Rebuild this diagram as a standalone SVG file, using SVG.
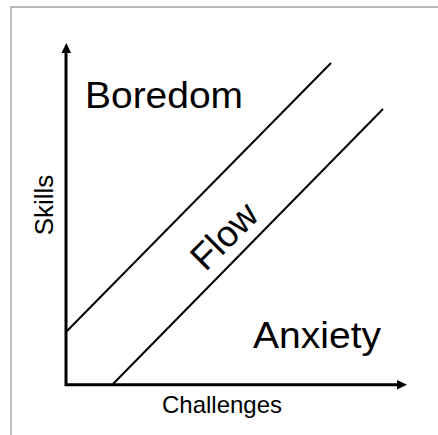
<svg xmlns="http://www.w3.org/2000/svg" width="438" height="435" viewBox="0 0 438 435">
<style>
.lbl{font-family:"Liberation Sans",Arial,sans-serif;fill:#000}
.big{font-size:37px}
.small{font-size:24px}
.ln{stroke:#000;stroke-width:2;fill:none}
</style>
<rect width="438" height="435" fill="#fff"/>
<path d="M11,440 V7 H440" fill="none" stroke="#a0a0a0" stroke-width="1.3"/>
<g id="connectors">
<polyline points="66,52 66,384.8 398,384.8" fill="none" stroke="#000" stroke-width="3" stroke-linejoin="miter"/>
<polygon points="66.3,43 61.5,53 71.1,53" fill="#000"/>
<polygon points="407,384.8 397,380 397,389.6" fill="#000"/>
<line class="ln" x1="66" y1="332" x2="331" y2="63"/>
<line class="ln" x1="113" y1="384" x2="383" y2="109"/>
</g>
<g id="boredom"><text class="lbl big" x="85" y="108" textLength="158" lengthAdjust="spacingAndGlyphs">Boredom</text></g>
<g id="anxiety"><text class="lbl big" x="253" y="348" textLength="128" lengthAdjust="spacingAndGlyphs">Anxiety</text></g>
<g id="flow"><text class="lbl big" text-anchor="middle" transform="translate(233,245) rotate(-45)">Flow</text></g>
<g id="challenges"><text class="lbl small" x="222" y="413" text-anchor="middle">Challenges</text></g>
<g id="skills"><text class="lbl" font-size="26" text-anchor="middle" transform="translate(53,205) rotate(-90)">Skills</text></g>
</svg>
